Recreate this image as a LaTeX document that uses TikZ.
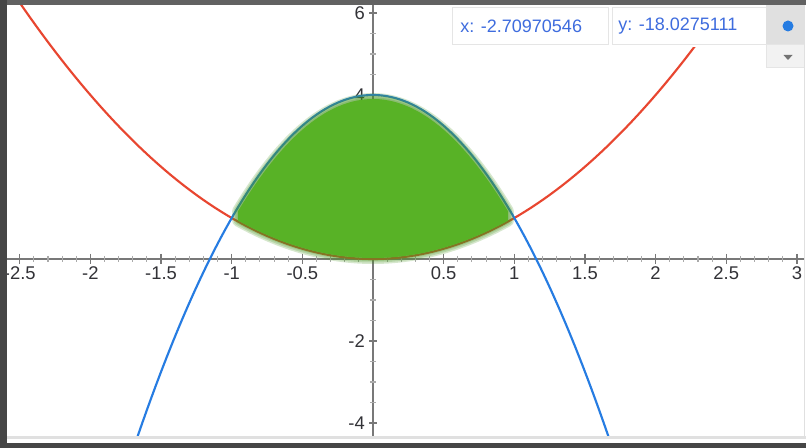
\documentclass[tikz,border=0pt]{standalone}
\usepackage{fontspec}
\setmainfont{Liberation Sans}
\definecolor{redc}{RGB}{232,70,48}
\definecolor{bluec}{RGB}{38,124,226}
\definecolor{greenc}{RGB}{88,178,38}
\definecolor{greendk}{RGB}{70,150,30}
\definecolor{axisc}{RGB}{120,120,120}
\definecolor{minorc}{RGB}{170,170,170}
\definecolor{labc}{RGB}{50,50,55}
\definecolor{boxtxt}{RGB}{62,108,222}
\definecolor{framec}{RGB}{70,70,70}
\begin{document}
\begin{tikzpicture}[x=0.75pt,y=-0.75pt,
  axislabel/.style={inner sep=0pt, text=labc, font=\fontsize{13.8}{16}\selectfont},
  boxlabel/.style={inner sep=0pt, anchor=west, text=boxtxt, font=\fontsize{13.5}{16}\selectfont},
  curve/.style={line width=1.6pt, line join=round},
  blur/.style={greendk, opacity=0.22, line join=round}]
\useasboundingbox (0,0) rectangle (806,448);
\fill[white] (0,0) rectangle (806,448);
\begin{scope}
\clip (7,5) rectangle (804,437);
% axes
\draw[axisc, line width=1.6pt] (0,259) coordinate (xa0) -- (806,259) coordinate (xa1);
\draw[axisc, line width=1.6pt] (373,0) coordinate (ya0) -- (373,448) coordinate (ya1);
% x ticks
\foreach \i in {-27,...,31} \draw[minorc, line width=0.8pt] ({373+14.13*\i},256) -- ({373+14.13*\i},262);
\foreach \i in {-6,...,6} \draw[axisc, line width=0.9pt] ({373+70.65*\i},254) -- ({373+70.65*\i},264);
% y ticks
\foreach \j in {-9,...,13} \draw[minorc, line width=0.8pt] (370,{259-20.5*\j}) -- (376,{259-20.5*\j});
\foreach \j in {-2,...,3} \draw[axisc, line width=0.9pt] (369,{259-82*\j}) -- (377,{259-82*\j});
% x labels
\foreach \v/\t [count=\k] in {-2.5/-2.5,-2/-2,-1.5/-1.5,-1/-1,-0.5/-0.5,0.5/0.5,1/1,1.5/1.5,2/2,2.5/2.5,3/3}
  \node[axislabel] (xl\k) at ({373+141.3*\v},273) {\t};
% y labels
\foreach \v/\t [count=\k] in {6/6,4/4,-2/-2,-4/-4}
  \node[axislabel, anchor=east] (yl\k) at (365,{259-41*\v}) {\t};
% curves
\draw[curve, redc] plot[domain=-2.7:2.7, samples=120] ({373+141.3*\x},{259-41*\x*\x});
\draw[curve, bluec] plot[domain=-1.75:1.75, samples=120] ({373+141.3*\x},{259-41*(4-3*\x*\x)});
% green region with soft edge
\foreach \w in {12,9,6,3}
  \draw[blur, line width=\w*0.75pt] plot[domain=-0.955:0.955, samples=60] ({373+141.3*\x},{259-41*(4-3*\x*\x)+4}) -- plot[domain=0.955:-0.955, samples=60] ({373+141.3*\x},{259-41*\x*\x-1}) -- cycle;
\fill[greenc] plot[domain=-0.955:0.955, samples=60] ({373+141.3*\x},{259-41*(4-3*\x*\x)+4}) -- plot[domain=0.955:-0.955, samples=60] ({373+141.3*\x},{259-41*\x*\x-1}) -- cycle;
\end{scope}
% readout box
\fill[white] (450,5) rectangle (806,47);
\draw[black!10, line width=0.75pt] (452.5,7.5) rectangle (608,45);
\draw[black!10, line width=0.75pt] (612,7.5) rectangle (766,45);
\fill[black!12] (766,5) rectangle (804,45);
\fill[black!5] (766,45) rectangle (804,68);
\draw[black!10, line width=0.75pt] (766,45) rectangle (804,68);
\node[boxlabel] (xr) at (460,26) {x: -2.70970546};
\node[boxlabel] (yr) at (618,26) {y: -18.0275111};
\fill[bluec] (788,26) circle (5.5);
\fill[black!55] (783.5,55) -- (792.5,55) -- (788,60) -- cycle;
% frame
\fill[black!12] (7,436) rectangle (806,439);
\draw[black!12, line width=0.75pt] (804,5) -- (804,437);
\fill[framec!85] (0,0) rectangle (806,5);
\fill[framec] (0,0) rectangle (7,448);
\fill[framec] (0,443) rectangle (806,448);
\end{tikzpicture}
\end{document}
